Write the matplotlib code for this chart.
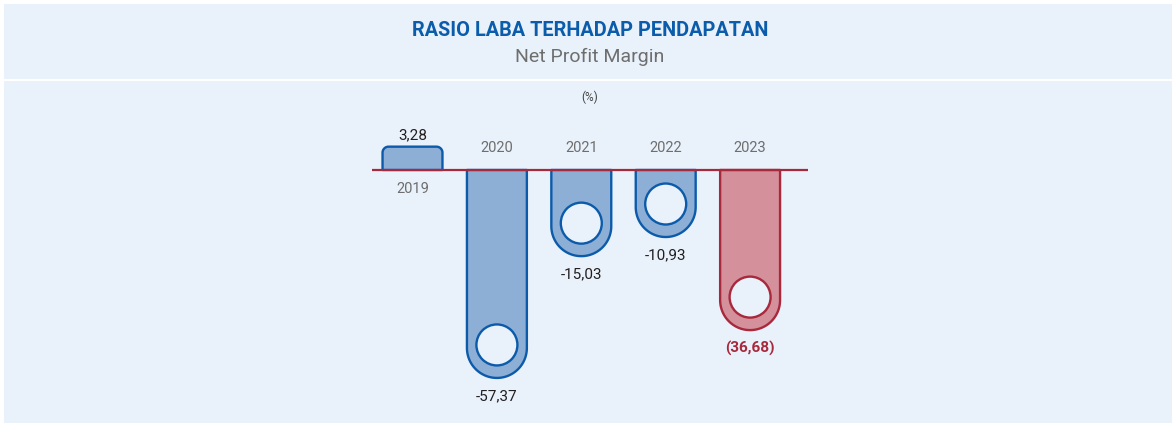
import numpy as np
import matplotlib
matplotlib.use("Agg")
import matplotlib.pyplot as plt

from matplotlib.patches import Polygon, Circle, Rectangle
from matplotlib.transforms import IdentityTransform


# DATA
years = ["2019", "2020", "2021", "2022", "2023"]
margin = [3.28, -57.37, -15.03, -10.93, -36.68]
highlight = [False, False, False, False, True]

title = "RASIO LABA TERHADAP PENDAPATAN"
subtitle = "Net Profit Margin"
unit = "(%)"

# COLORS
BG = "#E9F1FA"
BLUE_FILL = "#8DAED5"
BLUE_EDGE = "#0B5BAA"
RED_FILL = "#D4909B"
RED_EDGE = "#A8283C"
TITLE_BLUE = "#0B5CAB"
GREY = "#6E6E6E"
DARK = "#231F20"

plt.rcParams["font.family"] = ["Roboto", "DejaVu Sans"]


# VALUE FORMAT (comma decimal)
def fmt(v, hl):
    s = f"{abs(v):.2f}".replace(".", ",")
    if hl:
        return f"({s})"
    return ("-" if v < 0 else "") + s


# COMPRESSED SCALE (long bars shortened like the design)
C = 20.0


def fwd(y):
    y = np.asarray(y, dtype=float)
    return np.sign(y) * np.log1p(np.abs(y) / C)


def inv(u):
    u = np.asarray(u, dtype=float)
    return np.sign(u) * C * np.expm1(np.abs(u))


# FIGURE
W, H = 1172, 423
fig = plt.figure(figsize=(W / 100, H / 100), dpi=100, facecolor="white")

# PANELS
fig.add_artist(Rectangle((4 / W, 1 - 79 / H), 1, 75 / H,
                         transform=fig.transFigure, facecolor=BG,
                         edgecolor="none", zorder=0))
fig.add_artist(Rectangle((4 / W, 0), 1, 342 / H,
                         transform=fig.transFigure, facecolor=BG,
                         edgecolor="none", zorder=0))

# TITLES
fig.text(590 / W, 1 - 30 / H, title, ha="center", va="center",
         fontsize=14.3, fontweight="bold", color=TITLE_BLUE)
fig.text(590 / W, 1 - 57 / H, subtitle, ha="center", va="center",
         fontsize=14, color=GREY)
fig.text(590 / W, 1 - 97 / H, unit, ha="center", va="center",
         fontsize=8.5, color="#444444")

# AXES (pixel box: x 372-808, y 120-410, baseline at 170)
ax_left, ax_right, ax_top, ax_bot, base = 372, 808, 120, 410, 170
px_unit = 153.7
step = 84.4
first = 412.5

ax = fig.add_axes([ax_left / W, 1 - ax_bot / H,
                   (ax_right - ax_left) / W, (ax_bot - ax_top) / H])
ax.set_facecolor("none")
ax.set_yscale("function", functions=(fwd, inv))
ax.set_xlim((ax_left - first) / step, (ax_right - first) / step)
ax.set_ylim(float(inv(-(ax_bot - base) / px_unit)),
            float(inv((base - ax_top) / px_unit)))
ax.axis("off")

BAR_W = 0.71


def rounded_end(xa, xb, yb, ye, r, n=30):
    d = 1 if ye < yb else -1
    cy = ye + d * r
    t = np.linspace(0, 1, n)
    a1 = np.radians(180 + d * 90 * t)
    a2 = np.radians(180 + d * 90 + d * 90 * t)
    left = np.column_stack([xa + r + r * np.cos(a1), cy + r * np.sin(a1)])
    right = np.column_stack([xb - r + r * np.cos(a2), cy + r * np.sin(a2)])
    return np.vstack([[xa, yb], left, right, [xb, yb]])


# BARS
for i, (v, hl) in enumerate(zip(margin, highlight)):

    fill = RED_FILL if hl else BLUE_FILL
    edge = RED_EDGE if hl else BLUE_EDGE

    xa, yb = ax.transData.transform((i - BAR_W / 2, 0))
    xb, ye = ax.transData.transform((i + BAR_W / 2, v))

    r = (xb - xa) / 2 if v < 0 else 6

    ax.add_patch(Polygon(rounded_end(xa, xb, yb, ye, r), closed=True,
                         facecolor=fill, edgecolor=edge, linewidth=1.7,
                         joinstyle="round", transform=IdentityTransform(),
                         clip_on=False, zorder=2))

    if v < 0:
        ax.add_patch(Circle(((xa + xb) / 2, ye + 33), 20.5,
                            facecolor=BG, edgecolor=edge, linewidth=1.7,
                            transform=IdentityTransform(),
                            clip_on=False, zorder=3))

    # YEAR LABEL
    ax.annotate(years[i], (i, 0), xytext=(0, 22 if v < 0 else -19),
                textcoords="offset pixels", ha="center", va="center",
                fontsize=10.5, color=GREY, annotation_clip=False)

    # VALUE LABEL
    ax.annotate(fmt(v, hl), (i, v), xytext=(0, -11 if v < 0 else 4),
                textcoords="offset pixels", ha="center",
                va="top" if v < 0 else "bottom",
                fontsize=11, color=RED_EDGE if hl else DARK,
                fontweight="bold" if hl else "normal",
                annotation_clip=False)

# BASELINE
ax.axhline(0, color="#A52A3E", linewidth=1.6, zorder=4)

plt.savefig("out.png", dpi=100, facecolor="white")
